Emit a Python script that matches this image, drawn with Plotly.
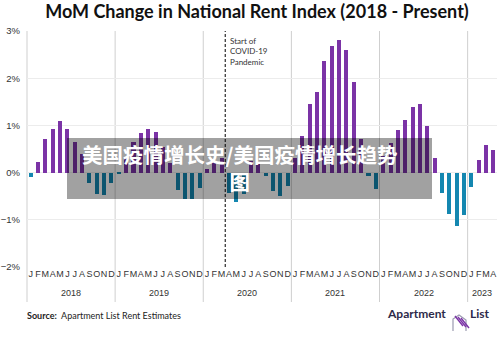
import plotly.graph_objects as go

# Month-over-month change in the national rent index, percent
years = ["2018", "2019", "2020", "2021", "2022", "2023"]
month_letters = ["J", "F", "M", "A", "M", "J", "J", "A", "S", "O", "N", "D"]

mom_2018 = [-0.10, 0.22, 0.71, 0.93, 1.10, 0.93, 0.65, 0.40, -0.22, -0.45, -0.47, -0.22]
mom_2019 = [-0.03, 0.30, 0.65, 0.83, 0.92, 0.85, 0.55, 0.20, -0.36, -0.56, -0.56, -0.32]
mom_2020 = [0.07, 0.25, 0.30, -0.43, -0.62, -0.45, 0.25, 0.20, -0.08, -0.40, -0.50, -0.28]
mom_2021 = [0.30, 0.78, 1.45, 1.71, 2.36, 2.68, 2.82, 2.60, 1.91, 0.71, -0.07, -0.35]
mom_2022 = [0.35, 0.62, 0.91, 1.12, 1.39, 1.46, 0.99, 0.30, -0.44, -0.88, -1.13, -0.90]
mom_2023 = [-0.31, 0.26, 0.58, 0.48]

values = mom_2018 + mom_2019 + mom_2020 + mom_2021 + mom_2022 + mom_2023
months_per_year = [12, 12, 12, 12, 12, 4]
n = len(values)
x = [i + 0.5 for i in range(n)]
tick_text = (month_letters * 6)[:n]

POS = "#7B33A6"
NEG = "#1487B0"
colors = [POS if v >= 0 else NEG for v in values]

W, H = 500, 337
L, R, T, B = 27, 3, 31, 70
PW, PH = W - L - R, H - T - B


def px_x(px):
    return (px - L) / PW


def px_y(py):
    return (H - B - py) / PH


fig = go.Figure()
fig.add_trace(go.Bar(
    x=x, y=values, width=0.55,
    marker=dict(color=colors, line=dict(width=0)),
    hoverinfo="skip",
))

shapes = []
# left frame line and year separators, running through the label band
boundaries = [0]
acc = 0
for m in months_per_year[:-1]:
    acc += m
    boundaries.append(acc)
for b in boundaries:
    shapes.append(dict(type="line", xref="paper", yref="paper",
                       x0=b / n, x1=b / n, y0=px_y(302), y1=1,
                       line=dict(color="#cfcfcf", width=1), layer="below"))

# start of the pandemic (end of March 2020)
covid_x = 12 * 2 + 3
shapes.append(dict(type="line", xref="x", yref="y", x0=covid_x, x1=covid_x,
                   y0=-2, y1=3, line=dict(color="#3a3a3a", width=1.3, dash="3px,2px"),
                   layer="above"))

# translucent banner
shapes.append(dict(type="rect", xref="paper", yref="paper",
                   x0=px_x(67), x1=px_x(432), y0=px_y(199), y1=px_y(138),
                   fillcolor="rgba(0,0,0,0.37)", line=dict(width=0), layer="above"))

# logo mark
shapes.append(dict(type="path", xref="paper", yref="paper",
                   path="M {} {} L {} {} L {} {} L {} {} L {} {}".format(
                       px_x(453), px_y(331), px_x(453), px_y(319), px_x(459), px_y(315),
                       px_x(466), px_y(320), px_x(466), px_y(331)),
                   line=dict(color="#9b9bb0", width=1.2)))
for k in range(3):
    shapes.append(dict(type="line", xref="paper", yref="paper",
                       x0=px_x(455 + 3 * k), y0=px_y(316 + k),
                       x1=px_x(463 + 3 * k), y1=px_y(326 + k),
                       line=dict(color=POS, width=1.4)))

annotations = []
start = 0
for yr, m in zip(years, months_per_year):
    annotations.append(dict(text=yr, xref="x", yref="paper", x=start + m / 2, y=px_y(293),
                            showarrow=False, yanchor="middle",
                            font=dict(size=9, color="#333", family="Liberation Sans, Arial")))
    start += m

annotations.append(dict(text="Start of<br>COVID-19<br>Pandemic", xref="x", yref="paper",
                        x=covid_x, xshift=3, y=px_y(34), xanchor="left", yanchor="top",
                        align="left", showarrow=False,
                        font=dict(size=8, color="#333", family="Lato, Liberation Sans")))

annotations.append(dict(text="美国疫情增长史/美国疫情增长趋势<br>图", xref="paper", yref="paper",
                        x=px_x(239), y=px_y(167), showarrow=False, align="center",
                        font=dict(size=20.5, color="white", family="Noto Sans CJK SC", weight="bold")))

annotations.append(dict(text="<b>Source:</b>  Apartment List Rent Estimates", xref="paper", yref="paper",
                        x=px_x(25), y=px_y(323), xanchor="left", showarrow=False,
                        font=dict(size=9, color="#222", family="Lato, Liberation Sans")))
annotations.append(dict(text="<b>Apartment</b>", xref="paper", yref="paper",
                        x=px_x(448), y=px_y(323), xanchor="right", showarrow=False,
                        font=dict(size=12, color="#2d2a4a", family="Lato")))
annotations.append(dict(text="<b>List</b>", xref="paper", yref="paper",
                        x=px_x(468), y=px_y(323), xanchor="left", showarrow=False,
                        font=dict(size=12, color="#2d2a4a", family="Lato")))

fig.update_layout(
    width=W, height=H,
    margin=dict(l=L, r=R, t=T, b=B),
    paper_bgcolor="white", plot_bgcolor="white",
    showlegend=False,
    title=dict(text="<b>MoM Change in National Rent Index (2018 - Present)</b>",
               xref="container", x=0.514, xanchor="center",
               yref="container", y=1 - 12 / H, yanchor="middle",
               font=dict(size=18, color="#111", family="Lato")),
    shapes=shapes,
    annotations=annotations,
    bargap=0,
)
fig.update_xaxes(range=[0, n], tickvals=x, ticktext=tick_text, showgrid=False,
                 zeroline=False, showline=False, ticks="", tickangle=0, automargin=False,
                 tickfont=dict(size=9, color="#333", family="Liberation Sans, Arial"))
fig.update_yaxes(range=[-2, 3], dtick=1, ticksuffix="%", showgrid=True, gridcolor="#ececec",
                 gridwidth=1, zeroline=False, showline=False, ticks="", automargin=False,
                 ticklabelstandoff=6,
                 tickfont=dict(size=9.5, color="#333", family="Liberation Sans, Arial"))

fig.write_html("out.html")
